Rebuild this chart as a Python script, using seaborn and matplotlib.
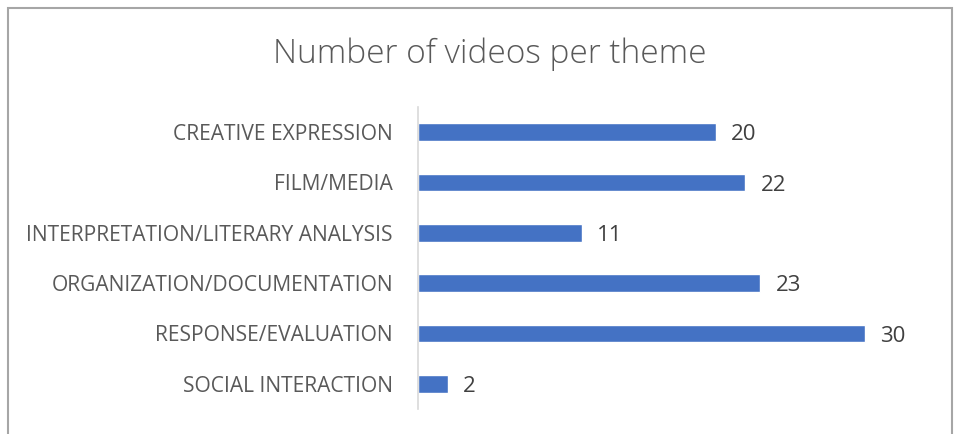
import matplotlib
matplotlib.use("Agg")
import matplotlib.pyplot as plt
import seaborn as sns
import pandas as pd
from matplotlib.patches import Rectangle

themes = [
    "CREATIVE EXPRESSION",
    "FILM/MEDIA",
    "INTERPRETATION/LITERARY ANALYSIS",
    "ORGANIZATION/DOCUMENTATION",
    "RESPONSE/EVALUATION",
    "SOCIAL INTERACTION",
]
videos = [20, 22, 11, 23, 30, 2]

df = pd.DataFrame({"theme": themes, "videos": videos})

sns.set_style("white")
plt.rcParams["font.family"] = ["Open Sans", "DejaVu Sans"]

fig = plt.figure(figsize=(9.58, 4.34), dpi=100)
ax = fig.add_axes([0.4363, 0.0576, 0.5438, 0.6959])

sns.barplot(data=df, y="theme", x="videos", orient="h", color="#4472C4",
            width=0.35, saturation=1, ax=ax)

ax.set_xlim(0, 35)
ax.set_ylim(5.5, -0.5)
ax.set_xlabel("")
ax.set_ylabel("")
ax.set_xticks([])
for s in ["top", "right", "bottom"]:
    ax.spines[s].set_visible(False)
ax.spines["left"].set_color("#D9D9D9")
ax.spines["left"].set_linewidth(1.2)
ax.tick_params(axis="y", length=0, pad=18, labelsize=15.1, labelcolor="#595959")

# value labels, nudged slightly below bar centre like the original
for i, v in enumerate(videos):
    ax.annotate(str(v), (v, i), xytext=(11, -2), textcoords="offset points",
                ha="left", va="center", fontsize=16, color="#404040")

fig.text(0.511, 0.875, "Number of videos per theme", ha="center", va="center",
         fontsize=24, color="#595959", fontweight="light")

# chart border
fig.patches.append(Rectangle((8 / 958, -0.05), 944 / 958, (434 - 8) / 434 + 0.05,
                             transform=fig.transFigure, fill=False,
                             edgecolor="#A6A6A6", linewidth=1.5))

fig.savefig("out.png", dpi=100)
